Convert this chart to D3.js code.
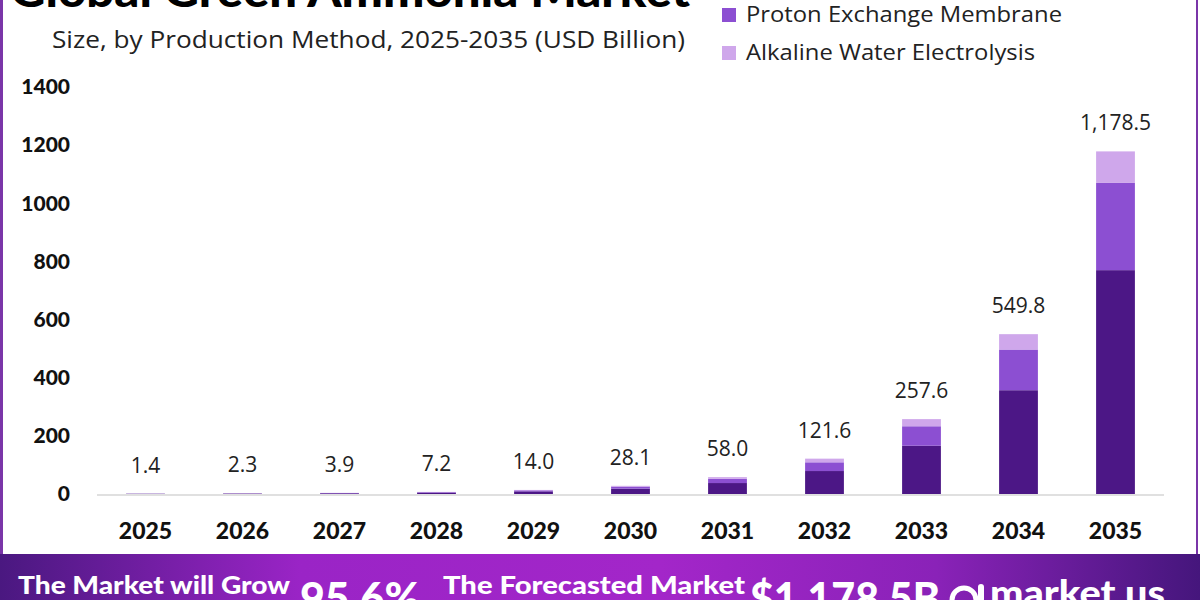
<!DOCTYPE html>
<html>
<head>
<meta charset="utf-8">
<script src="https://cdn.jsdelivr.net/npm/d3@7"></script>
<style>
  body { margin: 0; background: #fff; }
  svg { display: block; font-family: "Open Sans", "Noto Sans", sans-serif; }
</style>
</head>
<body>
<svg id="chart" width="1200" height="600"></svg>
<script>
// chart data
var years = ["2025", "2026", "2027", "2028", "2029", "2030", "2031", "2032", "2033", "2034", "2035"];
var seriesNames = ["Solid Oxide Electrolysis", "Proton Exchange Membrane", "Alkaline Water Electrolysis"];
var darkVals  = [0.9, 1.5, 2.5, 4.7, 9.1, 18.3, 37.7, 79.0, 166.0, 357.0, 770.0];
var midVals   = [0.35, 0.6, 1.0, 1.8, 3.5, 7.0, 14.5, 30.0, 67.0, 140.0, 300.0];
var lightVals = [0.15, 0.2, 0.4, 0.7, 1.4, 2.8, 5.8, 12.6, 24.6, 52.8, 108.5];
var totals    = [1.4, 2.3, 3.9, 7.2, 14.0, 28.1, 58.0, 121.6, 257.6, 549.8, 1178.5];
var yTicks    = [0, 200, 400, 600, 800, 1000, 1200, 1400];
var colors    = ["#4c1786", "#8c4fd2", "#cfa7eb"];

var svg = d3.select("#chart");

// banner gradient
var defs = svg.append("defs");
var grad = defs.append("linearGradient").attr("id", "band");
grad.append("stop").attr("offset", "0%").attr("stop-color", "#4a1880");
grad.append("stop").attr("offset", "25%").attr("stop-color", "#9a24c6");
grad.append("stop").attr("offset", "55%").attr("stop-color", "#a326c9");
grad.append("stop").attr("offset", "78%").attr("stop-color", "#8a22b8");
grad.append("stop").attr("offset", "100%").attr("stop-color", "#45167c");

// frame
svg.append("rect").attr("x", 0).attr("y", 0).attr("width", 3).attr("height", 554).attr("fill", "#7a35a8");
svg.append("rect").attr("x", 1196).attr("y", 0).attr("width", 2).attr("height", 554).attr("fill", "#7a35a8");
svg.append("rect").attr("x", 0).attr("y", 554).attr("width", 1200).attr("height", 46).attr("fill", "url(#band)");

// title + subtitle
svg.append("text").attr("x", 10).attr("y", 7)
  .attr("font-size", 46).attr("font-weight", 900).attr("fill", "#000")
  .attr("font-family", "Lato, sans-serif")
  .attr("textLength", 680).attr("lengthAdjust", "spacingAndGlyphs")
  .text("Global Green Ammonia Market");
svg.append("text").attr("x", 52).attr("y", 48)
  .attr("font-size", 23).attr("fill", "#222")
  .attr("textLength", 633).attr("lengthAdjust", "spacingAndGlyphs")
  .text("Size, by Production Method, 2025-2035 (USD Billion)");

// legend (first entry sits above the visible area)
var legendLen = [0, 316, 289];
var legend = svg.append("g");
[1, 2].forEach(function (k, i) {
  legend.append("rect").attr("x", 722).attr("y", 8 + i * 38).attr("width", 14).attr("height", 14).attr("fill", colors[k]);
  legend.append("text").attr("x", 746).attr("y", 22 + i * 38)
    .attr("font-size", 21).attr("fill", "#222")
    .attr("textLength", legendLen[k]).attr("lengthAdjust", "spacingAndGlyphs")
    .text(seriesNames[k]);
});

var x = d3.scaleBand().domain(years).range([97, 1164]).paddingInner(0.6).paddingOuter(0.3);
var y = d3.scaleLinear().domain([0, 1400]).range([494, 87]);

// y axis labels
svg.append("g").attr("transform", "translate(70,0)")
  .call(d3.axisLeft(y).tickValues(yTicks).tickFormat(d3.format("d")).tickSize(0).tickPadding(0))
  .call(function (g) { g.select(".domain").remove(); })
  .selectAll("text")
  .attr("font-size", 21).attr("font-weight", 900).attr("fill", "#111")
  .attr("font-family", "Lato, sans-serif");

// baseline
svg.append("line").attr("x1", 97).attr("x2", 1164).attr("y1", y(0) + 1).attr("y2", y(0) + 1)
  .attr("stroke", "#d6d6d6").attr("stroke-width", 1.5);

// stacked bars
var rows = years.map(function (yr, i) {
  return { year: yr, a: darkVals[i], b: midVals[i], c: lightVals[i] };
});
var stack = d3.stack().keys(["a", "b", "c"])(rows);

svg.append("g").selectAll("g").data(stack).join("g")
  .attr("fill", function (d, i) { return colors[i]; })
  .selectAll("rect").data(function (d) { return d; }).join("rect")
  .attr("x", function (d) { return x(d.data.year); })
  .attr("width", x.bandwidth())
  .attr("y", function (d) { return y(d[1]); })
  .attr("height", function (d) { return y(d[0]) - y(d[1]); });

// x axis labels
svg.append("g").attr("transform", "translate(0,523)")
  .call(d3.axisBottom(x).tickSize(0).tickPadding(0))
  .call(function (g) { g.select(".domain").remove(); })
  .selectAll("text")
  .attr("dy", "0.71em")
  .attr("font-size", 23).attr("font-weight", 900).attr("fill", "#111")
  .attr("font-family", "Lato, sans-serif");

// totals above bars
var fmt = d3.format(",.1f");
svg.append("g").selectAll("text").data(years).join("text")
  .attr("x", function (d) { return x(d) + x.bandwidth() / 2; })
  .attr("y", function (d, i) { return y(totals[i]) - 21; })
  .attr("text-anchor", "middle")
  .attr("font-size", 21).attr("fill", "#222")
  .text(function (d, i) { return fmt(totals[i]); });

// bottom banner text (cut by the bottom edge, as in the original)
var band = svg.append("g").attr("fill", "#fff").attr("font-weight", 900).attr("font-family", "Lato, sans-serif");
band.append("text").attr("x", 18).attr("y", 594).attr("font-size", 25)
  .attr("textLength", 272).attr("lengthAdjust", "spacingAndGlyphs").text("The Market will Grow");
band.append("text").attr("x", 300).attr("y", 614).attr("font-size", 44)
  .attr("textLength", 120).attr("lengthAdjust", "spacingAndGlyphs").text("95.6%");
band.append("text").attr("x", 443).attr("y", 594).attr("font-size", 25)
  .attr("textLength", 302).attr("lengthAdjust", "spacingAndGlyphs").text("The Forecasted Market");
band.append("text").attr("x", 750).attr("y", 614).attr("font-size", 44)
  .attr("textLength", 190).attr("lengthAdjust", "spacingAndGlyphs").text("$1,178.5B");
band.append("text").attr("x", 990).attr("y", 606).attr("font-size", 36)
  .attr("textLength", 175).attr("lengthAdjust", "spacingAndGlyphs").text("market.us");
band.append("circle").attr("cx", 964).attr("cy", 600).attr("r", 12)
  .attr("fill", "none").attr("stroke", "#fff").attr("stroke-width", 5);
band.append("rect").attr("x", 978).attr("y", 584).attr("width", 6).attr("height", 18).attr("rx", 3);
</script>
</body>
</html>
